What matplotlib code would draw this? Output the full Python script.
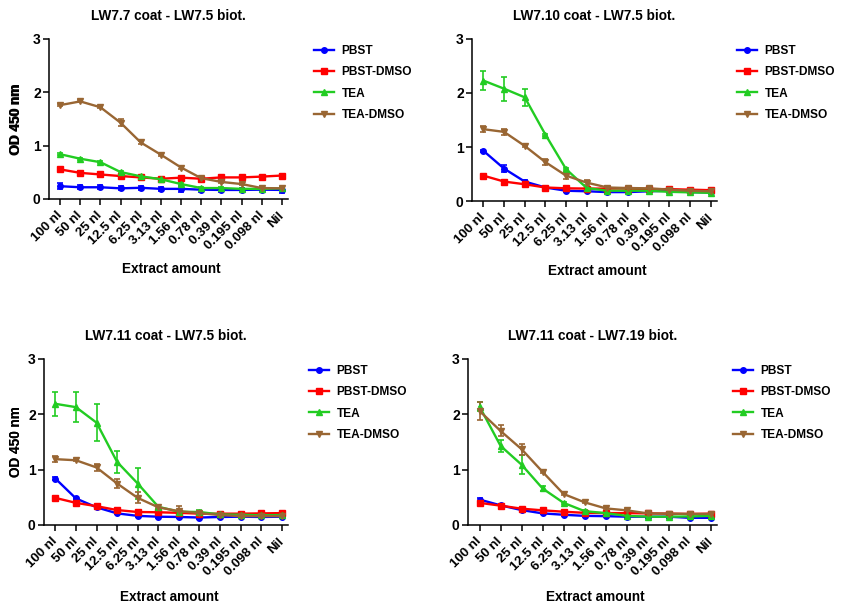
import matplotlib.pyplot as plt
from matplotlib.lines import Line2D

plt.rcParams["font.family"] = ["Liberation Sans", "DejaVu Sans"]
plt.rcParams["font.weight"] = "bold"

# x categories
amounts = ["100 nl", "50 nl", "25 nl", "12.5 nl", "6.25 nl", "3.13 nl",
           "1.56 nl", "0.78 nl", "0.39 nl", "0.195 nl", "0.098 nl", "Nil"]

series_names = ["PBST", "PBST-DMSO", "TEA", "TEA-DMSO"]
colors = ["#0000FF", "#FF0000", "#22CC22", "#996633"]
markers = ["o", "s", "^", "v"]

titles = ["LW7.7 coat - LW7.5 biot.", "LW7.10 coat - LW7.5 biot.",
          "LW7.11 coat - LW7.5 biot.", "LW7.11 coat - LW7.19 biot."]

# panel 1 : LW7.7 coat - LW7.5 biot.
p1_pbst = [0.24, 0.22, 0.22, 0.20, 0.21, 0.19, 0.19, 0.175, 0.17, 0.17, 0.175, 0.17]
p1_pbst_err = [0.06, 0.04, 0.04, 0.04, 0.04, 0.04, 0.05, 0.04, 0.04, 0.04, 0.04, 0.05]
p1_pbst_dmso = [0.555, 0.49, 0.46, 0.43, 0.405, 0.38, 0.40, 0.38, 0.405, 0.405, 0.42, 0.44]
p1_pbst_dmso_err = [0.02, 0.02, 0.02, 0.02, 0.02, 0.02, 0.02, 0.02, 0.02, 0.02, 0.02, 0.02]
p1_tea = [0.84, 0.755, 0.69, 0.505, 0.425, 0.37, 0.28, 0.205, 0.205, 0.19, 0.19, 0.20]
p1_tea_err = [0.02, 0.02, 0.02, 0.02, 0.02, 0.02, 0.02, 0.02, 0.02, 0.02, 0.02, 0.02]
p1_tea_dmso = [1.76, 1.83, 1.72, 1.43, 1.06, 0.83, 0.59, 0.39, 0.32, 0.28, 0.205, 0.20]
p1_tea_dmso_err = [0.02, 0.02, 0.02, 0.07, 0.02, 0.02, 0.02, 0.02, 0.02, 0.02, 0.03, 0.03]

# panel 2 : LW7.10 coat - LW7.5 biot.
p2_pbst = [0.93, 0.60, 0.36, 0.25, 0.19, 0.18, 0.165, 0.165, 0.18, 0.19, 0.165, 0.16]
p2_pbst_err = [0.02, 0.07, 0.02, 0.02, 0.02, 0.02, 0.02, 0.02, 0.02, 0.02, 0.02, 0.02]
p2_pbst_dmso = [0.47, 0.36, 0.31, 0.25, 0.235, 0.23, 0.23, 0.23, 0.22, 0.22, 0.21, 0.20]
p2_pbst_dmso_err = [0.02, 0.02, 0.02, 0.02, 0.02, 0.02, 0.02, 0.02, 0.02, 0.02, 0.02, 0.02]
p2_tea = [2.23, 2.08, 1.92, 1.23, 0.59, 0.24, 0.19, 0.19, 0.19, 0.17, 0.16, 0.15]
p2_tea_err = [0.18, 0.22, 0.16, 0.02, 0.02, 0.02, 0.02, 0.02, 0.02, 0.02, 0.02, 0.02]
p2_tea_dmso = [1.33, 1.28, 1.02, 0.72, 0.47, 0.34, 0.25, 0.24, 0.235, 0.21, 0.19, 0.18]
p2_tea_dmso_err = [0.05, 0.06, 0.02, 0.06, 0.06, 0.04, 0.02, 0.02, 0.02, 0.02, 0.02, 0.02]

# panel 3 : LW7.11 coat - LW7.5 biot.
p3_pbst = [0.84, 0.48, 0.32, 0.21, 0.165, 0.15, 0.145, 0.135, 0.145, 0.15, 0.145, 0.15]
p3_pbst_err = [0.02, 0.02, 0.02, 0.02, 0.02, 0.02, 0.02, 0.02, 0.02, 0.02, 0.02, 0.02]
p3_pbst_dmso = [0.49, 0.40, 0.34, 0.27, 0.235, 0.23, 0.22, 0.205, 0.205, 0.205, 0.21, 0.215]
p3_pbst_dmso_err = [0.02, 0.02, 0.02, 0.02, 0.02, 0.02, 0.02, 0.02, 0.02, 0.02, 0.02, 0.02]
p3_tea = [2.19, 2.13, 1.85, 1.14, 0.75, 0.33, 0.24, 0.235, 0.19, 0.185, 0.175, 0.18]
p3_tea_err = [0.22, 0.27, 0.33, 0.20, 0.28, 0.04, 0.02, 0.04, 0.02, 0.02, 0.02, 0.02]
p3_tea_dmso = [1.19, 1.17, 1.04, 0.75, 0.49, 0.32, 0.25, 0.215, 0.18, 0.16, 0.16, 0.16]
p3_tea_dmso_err = [0.05, 0.02, 0.06, 0.08, 0.10, 0.02, 0.10, 0.02, 0.02, 0.03, 0.03, 0.03]

# panel 4 : LW7.11 coat - LW7.19 biot.
p4_pbst = [0.46, 0.355, 0.27, 0.21, 0.185, 0.165, 0.16, 0.15, 0.15, 0.15, 0.13, 0.13]
p4_pbst_err = [0.02, 0.02, 0.02, 0.02, 0.02, 0.02, 0.02, 0.02, 0.02, 0.02, 0.02, 0.02]
p4_pbst_dmso = [0.40, 0.35, 0.295, 0.265, 0.24, 0.22, 0.215, 0.215, 0.21, 0.205, 0.20, 0.205]
p4_pbst_dmso_err = [0.03, 0.02, 0.02, 0.02, 0.02, 0.02, 0.02, 0.02, 0.02, 0.02, 0.02, 0.02]
p4_tea = [2.14, 1.43, 1.09, 0.66, 0.40, 0.25, 0.215, 0.165, 0.15, 0.15, 0.155, 0.165]
p4_tea_err = [0.08, 0.11, 0.17, 0.05, 0.02, 0.02, 0.02, 0.02, 0.02, 0.02, 0.02, 0.02]
p4_tea_dmso = [2.06, 1.70, 1.37, 0.96, 0.56, 0.41, 0.30, 0.265, 0.21, 0.205, 0.20, 0.20]
p4_tea_dmso_err = [0.17, 0.10, 0.10, 0.02, 0.02, 0.02, 0.02, 0.02, 0.02, 0.02, 0.02, 0.02]

panels = [
    [(p1_pbst, p1_pbst_err), (p1_pbst_dmso, p1_pbst_dmso_err),
     (p1_tea, p1_tea_err), (p1_tea_dmso, p1_tea_dmso_err)],
    [(p2_pbst, p2_pbst_err), (p2_pbst_dmso, p2_pbst_dmso_err),
     (p2_tea, p2_tea_err), (p2_tea_dmso, p2_tea_dmso_err)],
    [(p3_pbst, p3_pbst_err), (p3_pbst_dmso, p3_pbst_dmso_err),
     (p3_tea, p3_tea_err), (p3_tea_dmso, p3_tea_dmso_err)],
    [(p4_pbst, p4_pbst_err), (p4_pbst_dmso, p4_pbst_dmso_err),
     (p4_tea, p4_tea_err), (p4_tea_dmso, p4_tea_dmso_err)],
]

W, H = 841, 608
# axes in pixels: left, top, right, bottom
boxes_px = [
    (49, 39, 288, 199),
    (472, 39, 717, 201),
    (44, 359, 288, 525),
    (468, 359, 717, 525),
]

fig = plt.figure(figsize=(W / 100, H / 100), dpi=100)

x = list(range(len(amounts)))

handles = [Line2D([], [], color=c, marker=m, markersize=4, linewidth=1.7)
           for c, m in zip(colors, markers)]

for (l, t, r, b), title, data in zip(boxes_px, titles, panels):
    ax = fig.add_axes([l / W, 1 - b / H, (r - l) / W, (b - t) / H])
    wpx, hpx = r - l, b - t
    for (vals, errs), name, c, m in zip(data, series_names, colors, markers):
        ax.errorbar(x, vals, yerr=errs, color=c, marker=m, markersize=4,
                    linewidth=1.7, elinewidth=1.2, capsize=2.5, capthick=1.2)
    ax.set_ylim(0, 3)
    ax.set_xlim(-0.55, 11.3)
    ax.set_yticks([0, 1, 2, 3])
    ax.set_xticks(x)
    ax.set_xticklabels(amounts, rotation=45, ha="right", va="center",
                       rotation_mode="anchor", fontsize=9.5, fontweight="bold")
    ax.tick_params(axis="y", labelsize=10, width=1.1, length=4.5, pad=1.5)
    ax.tick_params(axis="x", width=1.1, length=4.5, pad=6)
    for lab in ax.get_yticklabels():
        lab.set_fontweight("bold")
    ax.spines["top"].set_visible(False)
    ax.spines["right"].set_visible(False)
    ax.spines["left"].set_linewidth(1.1)
    ax.spines["bottom"].set_linewidth(1.1)
    ax.set_title(title, fontsize=9.8, fontweight="bold", pad=14)

    ax.set_ylabel("OD 450 nm", fontsize=9.8, fontweight="bold")
    ax.yaxis.label.set_verticalalignment("center")
    ax.yaxis.set_label_coords((16 - l) / wpx, 0.5)

    ax.set_xlabel("Extract amount", fontsize=9.8, fontweight="bold")
    ax.xaxis.label.set_verticalalignment("center")
    ax.xaxis.set_label_coords(0.5 + 3 / wpx, -(72 if t > 300 else 70) / hpx)

    leg_top = 371 - 6 if t > 300 else 51 - 6
    ax.legend(handles, series_names, loc="upper left",
              bbox_to_anchor=(265 / wpx, (b - leg_top) / hpx),
              borderaxespad=0, borderpad=0, frameon=False,
              handlelength=1.7, handletextpad=0.6, labelspacing=0.78,
              prop={"weight": "bold", "size": 8.6})

fig.savefig("out.png", dpi=100)
